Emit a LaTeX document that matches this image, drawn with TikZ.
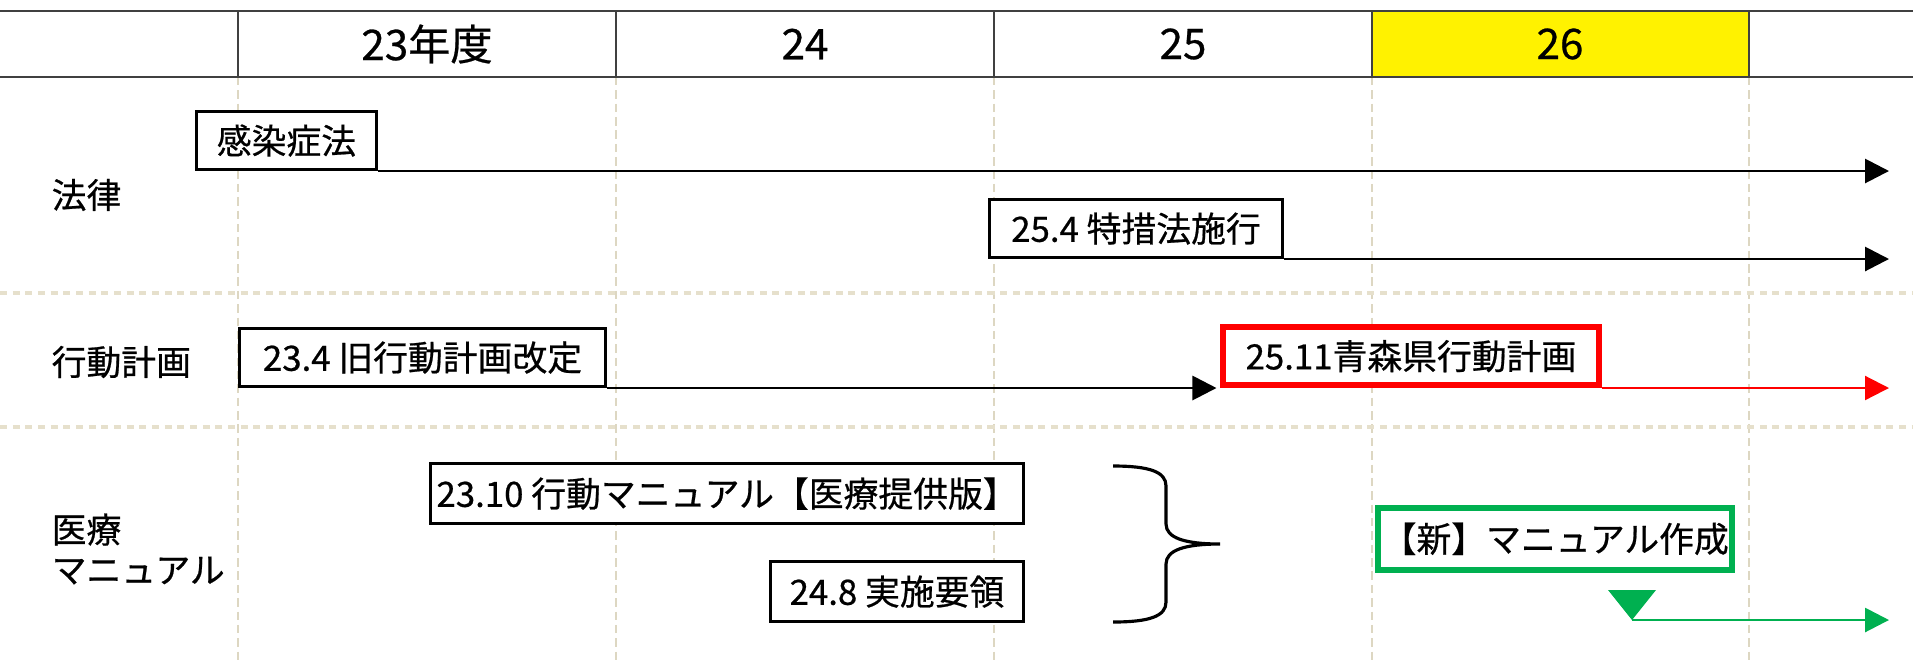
\documentclass[tikz,border=0pt]{standalone}
\usepackage{fontspec}
\setmainfont{Noto Sans CJK JP}[RawFeature={embolden=0.6}]
\usepackage{xcolor}
\usetikzlibrary{arrows.meta}
\usetikzlibrary{positioning}
\definecolor{gridbeige}{HTML}{DDD7C2}
\definecolor{sepbeige}{HTML}{E6E0CC}
\definecolor{exgreen}{HTML}{00B050}
\definecolor{headgray}{HTML}{404040}

\begin{document}
\begin{tikzpicture}[x=0.01cm,y=-0.01cm,>={Triangle[length=0.24cm,width=0.24cm]},
		font=\fontsize{9.9pt}{11.4pt}\selectfont,
		box/.style={rectangle, draw=black, line width=0.8pt, anchor=south west, minimum height=0.58cm, inner xsep=1pt, inner ysep=0pt, fill=white},
		hd/.style={font=\fontsize{12pt}{14pt}\selectfont},
		lbl/.style={anchor=west, inner sep=0pt, align=left},
		grid/.style={gridbeige, line width=0.6pt, dash pattern=on 2.4pt off 1.4pt},
		sep/.style={sepbeige, line width=1.1pt, dash pattern=on 2pt off 1.6pt}]
			\useasboundingbox (0,0) rectangle (1913,660);
			\fill[yellow] (1372,11) rectangle (1749,77);
			\foreach \x in {238,616,994,1372,1749}
				\draw[grid] (\x,77) -- (\x,660);
			\draw[sep] (0,293) -- (1913,293);
			\draw[sep] (0,427) -- (1913,427);
			\foreach \x in {238,616,994,1372,1749}
				\draw[headgray, line width=0.6pt] (\x,11) -- (\x,77);
			\draw[headgray, line width=0.8pt] (0,11) -- (1913,11);
			\draw[headgray, line width=0.8pt] (0,77) -- (1913,77);
			\node[hd] (h23) at (427,44) {23年度};
			\node[hd] (h24) at (805,44) {24};
			\node[hd] (h25) at (1183,44) {25};
			\node[hd] (h26) at (1560,44) {26};
			\node[lbl] (law) at (51,195) {法律};
			\node[lbl] (plan) at (51,362) {行動計画};
			\node[lbl] (manual) at (51,549) {医療\\マニュアル};
			\node[box, minimum width=1.8cm] (kansen) at (195,171) {感染症法};
			\node[box, minimum width=2.93cm] (tokuso) at (988,259) {25.4 特措法施行};
			\node[box, minimum width=3.66cm] (kyu) at (238,388) {23.4 旧行動計画改定};
			\node[box, draw=red, line width=1.6pt, minimum width=3.76cm] (aomori) at (1220,388) {25.11青森県行動計画};
			\node[box, minimum width=5.93cm, minimum height=0.6cm] (iryo) at (429,525) {23.10 行動マニュアル【医療提供版】};
			\node[box, minimum width=2.53cm, minimum height=0.6cm] (jisshi) at (769,623) {24.8 実施要領};
			\node[box, draw=exgreen, line width=1.8pt, minimum width=3.51cm, minimum height=0.62cm] (shin) at (1375,573) {【新】マニュアル作成};
			\coordinate (e1) at (1889,171);
			\coordinate (e2) at (1889,259);
			\coordinate (e3) at (1889,388);
			\coordinate (e4) at (1889,620);
			\coordinate (tri) at (1632,620);
			\coordinate (bt) at (1113,466);
			\coordinate (bb) at (1113,622);
			\draw[->, line width=0.8pt] (kansen.south east) -- (e1);
			\draw[->, line width=0.8pt] (tokuso.south east) -- (e2);
			\draw[->, line width=0.8pt, shorten >=1pt] (kyu.south east) -- (aomori.south west);
			\draw[->, red, line width=0.6pt] (aomori.south east) -- (e3);
			\fill[exgreen] (tri) -- ++(-24,-30) -- ++(48,0) -- cycle;
			\draw[->, exgreen, line width=0.8pt] (tri) -- (e4);
			\draw[line width=0.9pt] (bt) .. controls (1150,466) and (1166,472) .. (1166,486) -- (1166,524) .. controls (1166,538) and (1185,544) .. (1220,544) .. controls (1185,544) and (1166,550) .. (1166,564) -- (1166,602) .. controls (1166,616) and (1150,622) .. (bb);
		\end{tikzpicture}
\end{document}
